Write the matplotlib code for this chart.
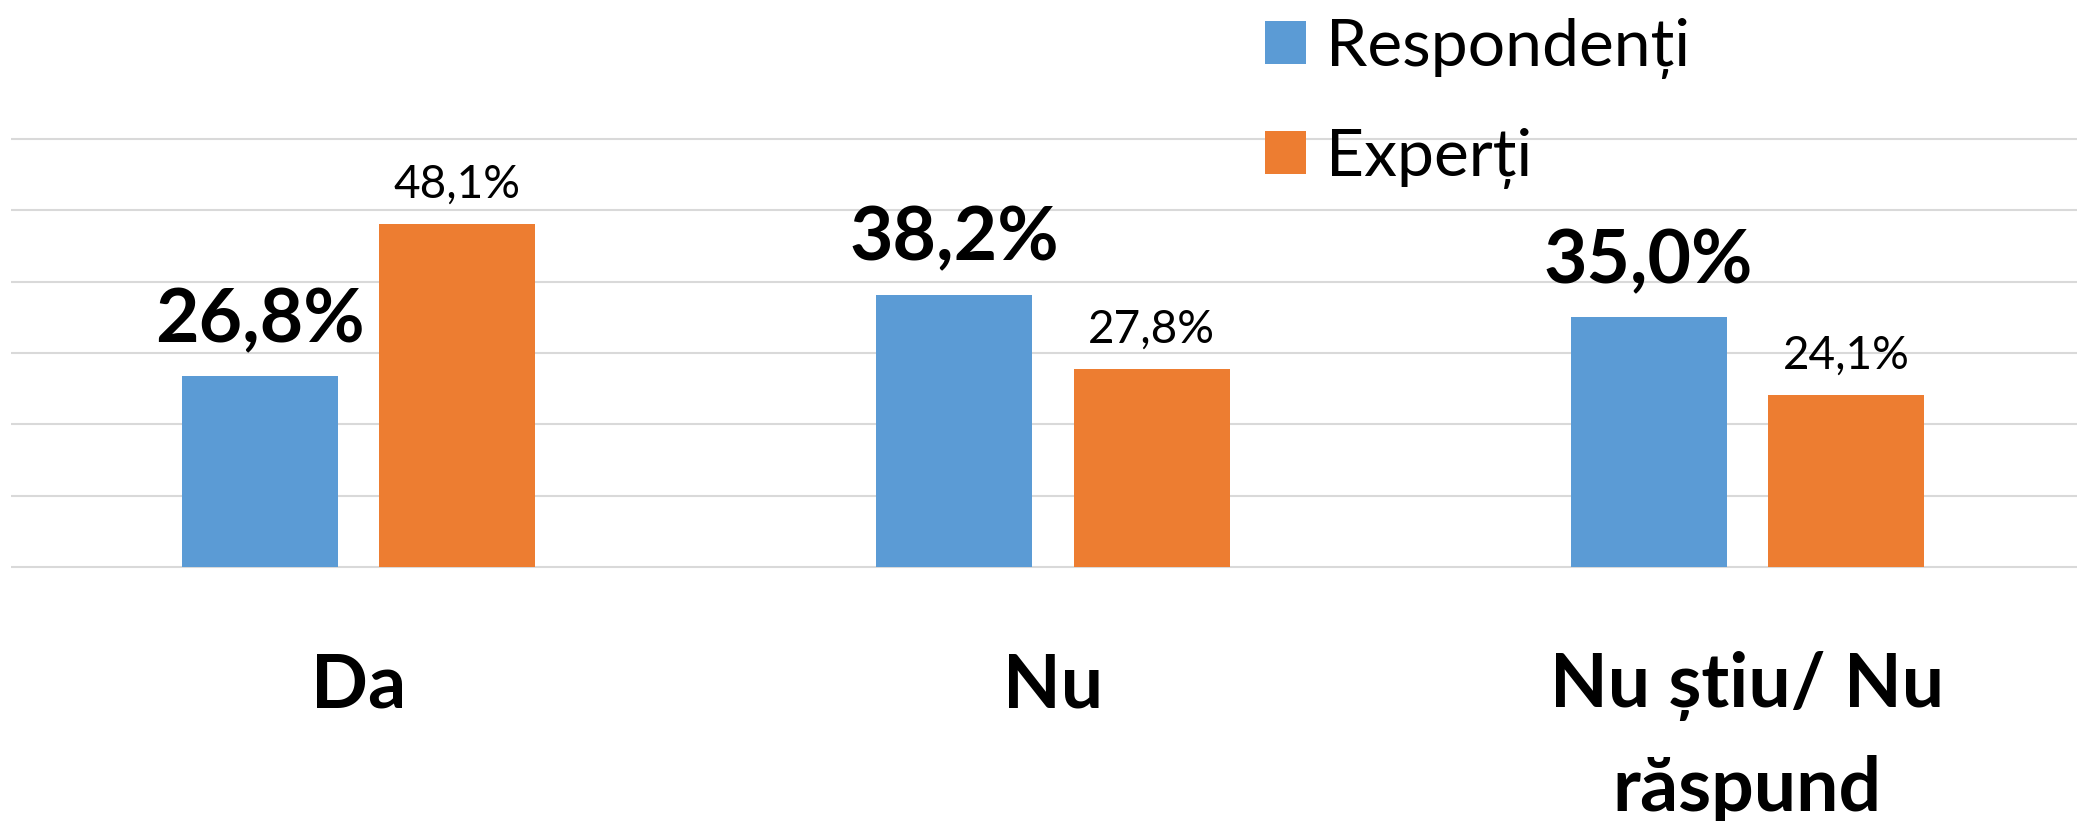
import matplotlib
matplotlib.use('Agg')
import matplotlib.pyplot as plt
import numpy as np

# Date
categorii = ['Da', 'Nu', 'Nu știu/ Nu\nrăspund']
respondenti = [26.8, 38.2, 35.0]
experti = [48.1, 27.8, 24.1]
serii = ['Respondenți', 'Experți']

albastru = '#5B9BD5'
portocaliu = '#ED7D31'
gri = '#D9D9D9'

plt.rcParams['font.family'] = ['Lato', 'DejaVu Sans']

W, H = 2077, 821
fig = plt.figure(figsize=(W / 100, H / 100), dpi=100)

# pozitia zonei de desen, in pixeli
px_unit = (567 - 139) / 60
y0, y1 = -0.5, 60.5
jos = 567 + 0.5 * px_unit
sus = 139 - 0.5 * px_unit
cat_w = 694.5
stanga = 358.4 - 0.5 * cat_w
ax = fig.add_axes([stanga / W, 1 - jos / H, 3 * cat_w / W, (jos - sus) / H])

x = np.arange(len(categorii))
latime = 0.2246
dx = 0.1422
b1 = ax.bar(x - dx, respondenti, latime, color=albastru, label=serii[0], zorder=3)
b2 = ax.bar(x + dx, experti, latime, color=portocaliu, label=serii[1], zorder=3)

ax.set_xlim(-0.5, 2.5)
ax.set_ylim(y0, y1)
ax.set_yticks(np.arange(0, 61, 10))
ax.yaxis.grid(True, color=gri, linewidth=1.5)
ax.set_axisbelow(True)
ax.tick_params(axis='y', length=0, labelleft=False)
for s in ax.spines.values():
    s.set_visible(False)

ax.set_xticks(x)
ax.set_xticklabels(categorii, fontsize=54, fontweight='bold', linespacing=1.6, va='top')
ax.tick_params(axis='x', length=0, pad=58)


def eticheta(v):
    return f'{v:.1f}'.replace('.', ',') + '%'


for xi, v in zip(x - dx, respondenti):
    ax.annotate(eticheta(v), (xi, v), xytext=(0, 24.5), textcoords='offset points',
                ha='center', va='baseline', fontsize=54, fontweight='bold')
for xi, v in zip(x + dx, experti):
    ax.annotate(eticheta(v), (xi, v), xytext=(0, 18.7), textcoords='offset points',
                ha='center', va='baseline', fontsize=33)

fig.legend(handles=[b1, b2], labels=serii, loc='upper left',
           bbox_to_anchor=(1265 / W, 1 - 18 / H), frameon=False, fontsize=47.5,
           handlelength=0.62, handleheight=0.62, handletextpad=0.3,
           labelspacing=0.74, borderpad=0, borderaxespad=0)

fig.savefig('out.png', dpi=100, facecolor='white')
